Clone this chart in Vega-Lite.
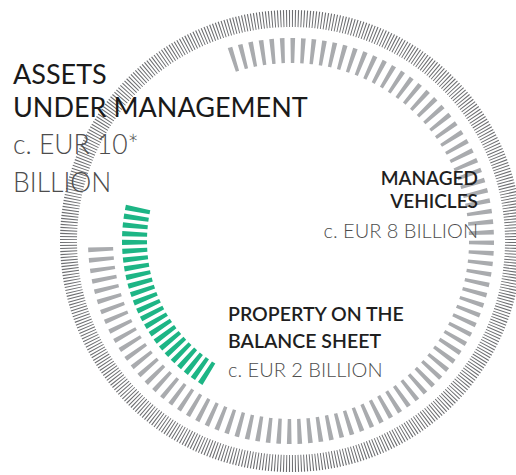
{
  "$schema": "https://vega.github.io/schema/vega-lite/v6.json",
  "autosize": "none",
  "width": 450,
  "height": 462,
  "padding": {"left": 66, "top": 10, "right": 0, "bottom": 3},
  "background": "white",
  "config": {"view": {"stroke": null}, "font": "Lato"},
  "datasets": {
    "ticks": [
      {"r":"m","v":1},{"r":"m","v":1},{"r":"m","v":1},{"r":"m","v":1},{"r":"m","v":1},{"r":"m","v":1},{"r":"m","v":1},{"r":"m","v":1},{"r":"m","v":1},{"r":"m","v":1},
      {"r":"m","v":1},{"r":"m","v":1},{"r":"m","v":1},{"r":"m","v":1},{"r":"m","v":1},{"r":"m","v":1},{"r":"m","v":1},{"r":"m","v":1},{"r":"m","v":1},{"r":"m","v":1},
      {"r":"m","v":1},{"r":"m","v":1},{"r":"m","v":1},{"r":"m","v":1},{"r":"m","v":1},{"r":"m","v":1},{"r":"m","v":1},{"r":"m","v":1},{"r":"m","v":1},{"r":"m","v":1},
      {"r":"m","v":1},{"r":"m","v":1},{"r":"m","v":1},{"r":"m","v":1},{"r":"m","v":1},{"r":"m","v":1},{"r":"m","v":1},{"r":"m","v":1},{"r":"m","v":1},{"r":"m","v":1},
      {"r":"m","v":1},{"r":"m","v":1},{"r":"m","v":1},{"r":"m","v":1},{"r":"m","v":1},{"r":"m","v":1},{"r":"m","v":1},{"r":"m","v":1},{"r":"m","v":1},{"r":"m","v":1},
      {"r":"m","v":1},{"r":"m","v":1},{"r":"m","v":1},{"r":"m","v":1},{"r":"m","v":1},{"r":"m","v":1},{"r":"m","v":1},{"r":"m","v":1},{"r":"m","v":1},{"r":"m","v":1},
      {"r":"m","v":1},{"r":"m","v":1},{"r":"m","v":1},{"r":"m","v":1},{"r":"m","v":1},{"r":"m","v":1},{"r":"m","v":1},{"r":"m","v":1},{"r":"m","v":1},{"r":"m","v":1},
      {"r":"m","v":1},{"r":"m","v":1},{"r":"m","v":1},{"r":"m","v":1},{"r":"m","v":1},{"r":"m","v":1},{"r":"m","v":1},{"r":"m","v":1},{"r":"m","v":1},{"r":"m","v":1},
      {"r":"m","v":1},{"r":"m","v":1},{"r":"m","v":1},{"r":"m","v":1},{"r":"m","v":1},{"r":"m","v":1},{"r":"m","v":1},{"r":"m","v":1},{"r":"m","v":1},{"r":"m","v":1},
      {"r":"m","v":1},{"r":"m","v":1},{"r":"m","v":1},{"r":"m","v":1},{"r":"m","v":1},{"r":"m","v":1},
      {"r":"m","v":24,"part":"rest"},
      {"r":"b","v":1},{"r":"b","v":1},{"r":"b","v":1},{"r":"b","v":1},{"r":"b","v":1},{"r":"b","v":1},{"r":"b","v":1},{"r":"b","v":1},{"r":"b","v":1},{"r":"b","v":1},
      {"r":"b","v":1},{"r":"b","v":1},{"r":"b","v":1},{"r":"b","v":1},{"r":"b","v":1},{"r":"b","v":1},{"r":"b","v":1},{"r":"b","v":1},{"r":"b","v":1},{"r":"b","v":1},
      {"r":"b","v":1},{"r":"b","v":1},{"r":"b","v":1},{"r":"b","v":1},
      {"r":"b","v":96,"part":"rest"}
    ],
    "scale": [
      {"v":1},{"v":1},{"v":1},{"v":1},{"v":1},{"v":1},{"v":1},{"v":1},{"v":1},{"v":1},
      {"v":1},{"v":1},{"v":1},{"v":1},{"v":1},{"v":1},{"v":1},{"v":1},{"v":1},{"v":1},
      {"v":1},{"v":1},{"v":1},{"v":1},{"v":1},{"v":1},{"v":1},{"v":1},{"v":1},{"v":1},
      {"v":1},{"v":1},{"v":1},{"v":1},{"v":1},{"v":1},{"v":1},{"v":1},{"v":1},{"v":1},
      {"v":1},{"v":1},{"v":1},{"v":1},{"v":1},{"v":1},{"v":1},{"v":1},{"v":1},{"v":1},
      {"v":1},{"v":1},{"v":1},{"v":1},{"v":1},{"v":1},{"v":1},{"v":1},{"v":1},{"v":1},
      {"v":1},{"v":1},{"v":1},{"v":1},{"v":1},{"v":1},{"v":1},{"v":1},{"v":1},{"v":1},
      {"v":1},{"v":1},{"v":1},{"v":1},{"v":1},{"v":1},{"v":1},{"v":1},{"v":1},{"v":1},
      {"v":1},{"v":1},{"v":1},{"v":1},{"v":1},{"v":1},{"v":1},{"v":1},{"v":1},{"v":1},
      {"v":1},{"v":1},{"v":1},{"v":1},{"v":1},{"v":1},{"v":1},{"v":1},{"v":1},{"v":1},
      {"v":1},{"v":1},{"v":1},{"v":1},{"v":1},{"v":1},{"v":1},{"v":1},{"v":1},{"v":1},
      {"v":1},{"v":1},{"v":1},{"v":1},{"v":1},{"v":1},{"v":1},{"v":1},{"v":1},{"v":1},
      {"v":1},{"v":1},{"v":1},{"v":1},{"v":1},{"v":1},{"v":1},{"v":1},{"v":1},{"v":1},
      {"v":1},{"v":1},{"v":1},{"v":1},{"v":1},{"v":1},{"v":1},{"v":1},{"v":1},{"v":1},
      {"v":1},{"v":1},{"v":1},{"v":1},{"v":1},{"v":1},{"v":1},{"v":1},{"v":1},{"v":1},
      {"v":1},{"v":1},{"v":1},{"v":1},{"v":1},{"v":1},{"v":1},{"v":1},{"v":1},{"v":1},
      {"v":1},{"v":1},{"v":1},{"v":1},{"v":1},{"v":1},{"v":1},{"v":1},{"v":1},{"v":1},
      {"v":1},{"v":1},{"v":1},{"v":1},{"v":1},{"v":1},{"v":1},{"v":1},{"v":1},{"v":1},
      {"v":1},{"v":1},{"v":1},{"v":1},{"v":1},{"v":1},{"v":1},{"v":1},{"v":1},{"v":1},
      {"v":1},{"v":1},{"v":1},{"v":1},{"v":1},{"v":1},{"v":1},{"v":1},{"v":1},{"v":1},
      {"v":1},{"v":1},{"v":1},{"v":1},{"v":1},{"v":1},{"v":1},{"v":1},{"v":1},{"v":1},
      {"v":1},{"v":1},{"v":1},{"v":1},{"v":1},{"v":1},{"v":1},{"v":1},{"v":1},{"v":1},
      {"v":1},{"v":1},{"v":1},{"v":1},{"v":1},{"v":1},{"v":1},{"v":1},{"v":1},{"v":1},
      {"v":1},{"v":1},{"v":1},{"v":1},{"v":1},{"v":1},{"v":1},{"v":1},{"v":1},{"v":1},
      {"v":1},{"v":1},{"v":1},{"v":1},{"v":1},{"v":1},{"v":1},{"v":1},{"v":1},{"v":1},
      {"v":1},{"v":1},{"v":1},{"v":1},{"v":1},{"v":1},{"v":1},{"v":1},{"v":1},{"v":1},
      {"v":1},{"v":1},{"v":1},{"v":1},{"v":1},{"v":1},{"v":1},{"v":1},{"v":1},{"v":1},
      {"v":1},{"v":1},{"v":1},{"v":1},{"v":1},{"v":1},{"v":1},{"v":1},{"v":1},{"v":1},
      {"v":1},{"v":1},{"v":1},{"v":1},{"v":1},{"v":1},{"v":1},{"v":1},{"v":1},{"v":1},
      {"v":1},{"v":1},{"v":1},{"v":1},{"v":1},{"v":1},{"v":1},{"v":1},{"v":1},{"v":1},
      {"v":1},{"v":1},{"v":1},{"v":1},{"v":1},{"v":1},{"v":1},{"v":1},{"v":1},{"v":1},
      {"v":1},{"v":1},{"v":1},{"v":1},{"v":1},{"v":1},{"v":1},{"v":1},{"v":1},{"v":1},
      {"v":1},{"v":1},{"v":1},{"v":1},{"v":1},{"v":1},{"v":1},{"v":1},{"v":1},{"v":1},
      {"v":1},{"v":1},{"v":1},{"v":1},{"v":1},{"v":1},{"v":1},{"v":1},{"v":1},{"v":1},
      {"v":1},{"v":1},{"v":1},{"v":1},{"v":1},{"v":1},{"v":1},{"v":1},{"v":1},{"v":1},
      {"v":1},{"v":1},{"v":1},{"v":1},{"v":1},{"v":1},{"v":1},{"v":1},{"v":1},{"v":1},
      {"v":1},{"v":1},{"v":1},{"v":1},{"v":1},{"v":1},{"v":1},{"v":1},{"v":1},{"v":1},
      {"v":1},{"v":1},{"v":1},{"v":1},{"v":1},{"v":1},{"v":1},{"v":1},{"v":1},{"v":1},
      {"v":1},{"v":1},{"v":1},{"v":1},{"v":1},{"v":1},{"v":1},{"v":1},{"v":1},{"v":1},
      {"v":1},{"v":1},{"v":1},{"v":1},{"v":1},{"v":1},{"v":1},{"v":1},{"v":1},{"v":1},
      {"v":1},{"v":1},{"v":1},{"v":1},{"v":1},{"v":1},{"v":1},{"v":1},{"v":1},{"v":1},
      {"v":1},{"v":1},{"v":1},{"v":1},{"v":1},{"v":1},{"v":1},{"v":1},{"v":1},{"v":1},
      {"v":1},{"v":1},{"v":1},{"v":1},{"v":1},{"v":1},{"v":1},{"v":1},{"v":1},{"v":1},
      {"v":1},{"v":1},{"v":1},{"v":1},{"v":1},{"v":1},{"v":1},{"v":1},{"v":1},{"v":1},
      {"v":1},{"v":1},{"v":1},{"v":1},{"v":1},{"v":1},{"v":1},{"v":1},{"v":1},{"v":1},
      {"v":1},{"v":1},{"v":1},{"v":1},{"v":1},{"v":1},{"v":1},{"v":1},{"v":1},{"v":1},
      {"v":1},{"v":1},{"v":1},{"v":1},{"v":1},{"v":1},{"v":1},{"v":1},{"v":1},{"v":1},
      {"v":1},{"v":1},{"v":1},{"v":1},{"v":1},{"v":1},{"v":1},{"v":1},{"v":1},{"v":1}
    ],
    "labels": [
      {"id":"aum","head":["ASSETS","UNDER MANAGEMENT"],"sub":["c. EUR 10*","BILLION"]},
      {"id":"managed","head":["MANAGED","VEHICLES"],"sub":"c. EUR 8 BILLION"},
      {"id":"balance","head":["PROPERTY ON THE","BALANCE SHEET"],"sub":"c. EUR 2 BILLION"}
    ]
  },
  "layer": [
    {
      "data": {"name": "scale"},
      "mark": {"type": "arc", "innerRadius": 214, "outerRadius": 231, "padAngle": 0.006, "fill": "#6d6e71", "stroke": null},
      "encoding": {
        "theta": {"field": "v", "type": "quantitative", "stack": true, "scale": {"range": [0, 6.2832]}}
      }
    },
    {
      "data": {"name": "ticks"},
      "transform": [{"filter": "datum.r === 'm'"}],
      "mark": {"type": "arc", "innerRadius": 178, "outerRadius": 203, "padAngle": 0.022, "fill": "#a9abae", "stroke": null},
      "encoding": {
        "theta": {"field": "v", "type": "quantitative", "stack": true, "scale": {"range": [-0.3316, 5.9516]}},
        "fillOpacity": {"condition": {"test": "datum.part === 'rest'", "value": 0}, "value": 1}
      }
    },
    {
      "data": {"name": "ticks"},
      "transform": [{"filter": "datum.r === 'b'"}],
      "mark": {"type": "arc", "innerRadius": 144, "outerRadius": 169, "padAngle": 0.0162, "fill": "#1db585", "stroke": null},
      "encoding": {
        "theta": {"field": "v", "type": "quantitative", "stack": true, "scale": {"range": [3.6826, 9.9658]}},
        "fillOpacity": {"condition": {"test": "datum.part === 'rest'", "value": 0}, "value": 1}
      }
    },
    {
      "data": {"name": "labels"},
      "transform": [{"filter": "datum.id === 'aum'"}],
      "layer": [
        {"mark": {"type": "text", "x": -53, "y": 74, "align": "left", "baseline": "alphabetic", "lineHeight": 33, "font": "Lato", "fontSize": 27, "fontWeight": 400, "fill": "#1a1a1a"},
         "encoding": {"text": {"field": "head"}}},
        {"mark": {"type": "text", "x": -53, "y": 144, "align": "left", "baseline": "alphabetic", "lineHeight": 38, "font": "Lato", "fontSize": 26.5, "fontWeight": 300, "fill": "#4d4d4d"},
         "encoding": {"text": {"field": "sub"}}}
      ]
    },
    {
      "data": {"name": "labels"},
      "transform": [{"filter": "datum.id === 'managed'"}],
      "layer": [
        {"mark": {"type": "text", "x": 412, "y": 175, "align": "right", "baseline": "alphabetic", "lineHeight": 23, "font": "Lato", "fontSize": 19, "fontWeight": 600, "fill": "#1f1f1f"},
         "encoding": {"text": {"field": "head"}}},
        {"mark": {"type": "text", "x": 412, "y": 228, "align": "right", "baseline": "alphabetic", "font": "Lato", "fontSize": 20, "fontWeight": 300, "fill": "#4d4d4d"},
         "encoding": {"text": {"field": "sub"}}}
      ]
    },
    {
      "data": {"name": "labels"},
      "transform": [{"filter": "datum.id === 'balance'"}],
      "layer": [
        {"mark": {"type": "text", "x": 162, "y": 311, "align": "left", "baseline": "alphabetic", "lineHeight": 27, "font": "Lato", "fontSize": 19.5, "fontWeight": 600, "fill": "#1f1f1f"},
         "encoding": {"text": {"field": "head"}}},
        {"mark": {"type": "text", "x": 162, "y": 367, "align": "left", "baseline": "alphabetic", "font": "Lato", "fontSize": 20, "fontWeight": 300, "fill": "#4d4d4d"},
         "encoding": {"text": {"field": "sub"}}}
      ]
    }
  ],
  "resolve": {"scale": {"theta": "independent"}}
}
